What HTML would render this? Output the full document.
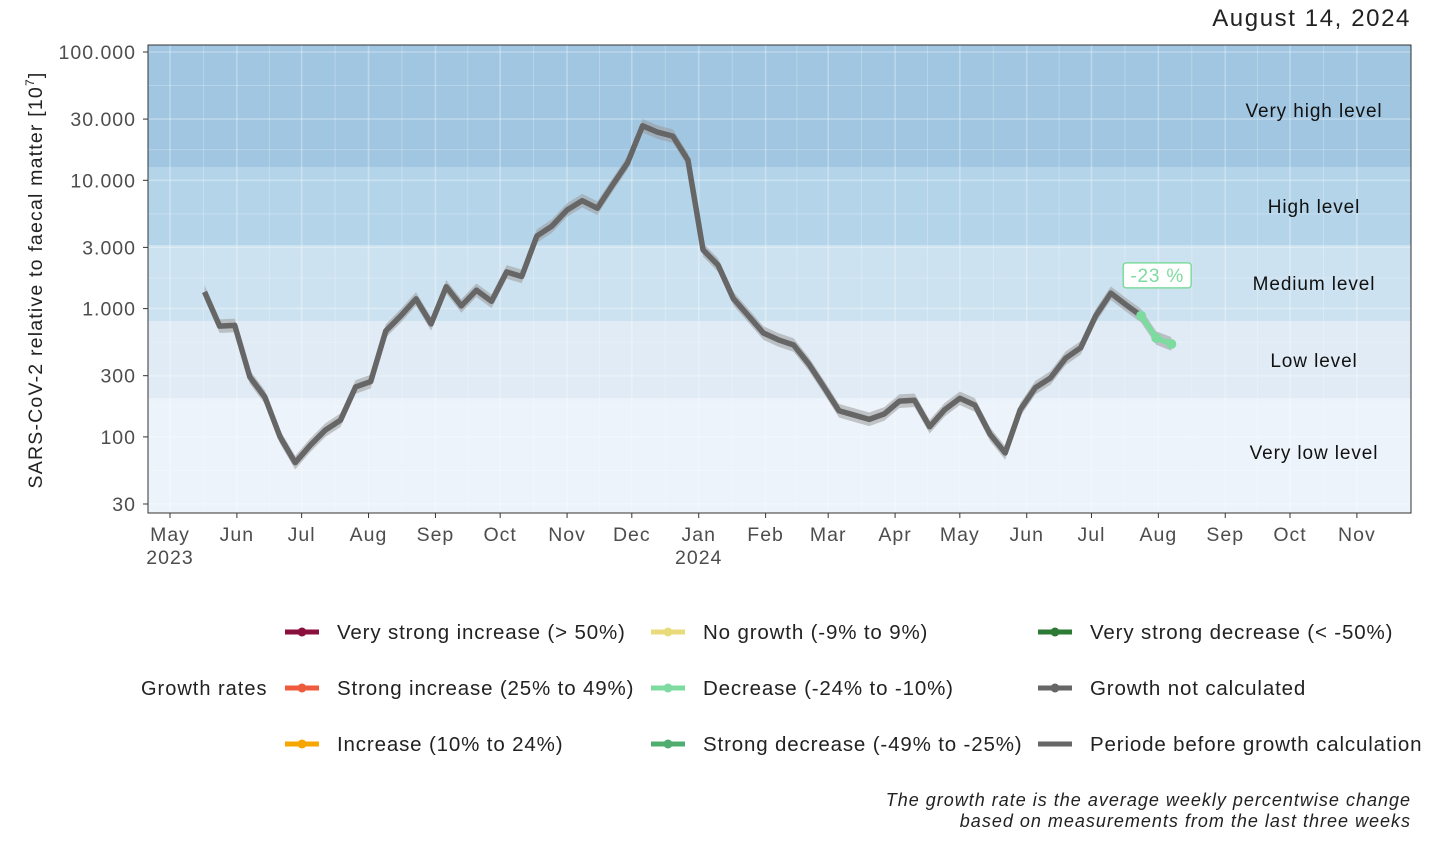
<!DOCTYPE html>
<html><head><meta charset="utf-8">
<style>
html,body{margin:0;padding:0;background:#fff;}
body{width:1456px;height:856px;overflow:hidden;font-family:"Liberation Sans",sans-serif;}
svg text{font-family:"Liberation Sans",sans-serif;}
</style></head>
<body>
<svg id="chart" width="1456" height="856" viewBox="0 0 1456 856"></svg>
<script>
const values = [1350,730,740,293,204,100,63,86,113,135,245,270,670,880,1190,760,1480,1050,1390,1140,1930,1780,3680,4400,5870,6940,6060,9150,13650,26600,23700,22100,14400,2870,2180,1200,880,645,570,520,370,245,160,148,137,151,190,193,120,163,200,177,105,75,163,242,288,410,495,880,1320,1070,880,590,530];
const startDate = "2023-05-17";
const greenStartIndex = 62;
const growthLabel = "-23 %";
const yTickValues = [30,100,300,1000,3000,10000,30000,100000];
const yTickLabels = ["30","100","300","1.000","3.000","10.000","30.000","100.000"];
const xTickDates = ["2023-05-01","2023-06-01","2023-07-01","2023-08-01","2023-09-01","2023-10-01","2023-11-01","2023-12-01","2024-01-01","2024-02-01","2024-03-01","2024-04-01","2024-05-01","2024-06-01","2024-07-01","2024-08-01","2024-09-01","2024-10-01","2024-11-01"];
const xTickLabels = ["May\n2023","Jun","Jul","Aug","Sep","Oct","Nov","Dec","Jan\n2024","Feb","Mar","Apr","May","Jun","Jul","Aug","Sep","Oct","Nov"];
const bandLimits = [20,200,800,3130,12700,200000];
const bandNames = ["Very low level","Low level","Medium level","High level","Very high level"];
const bandColors = ["#ecf3fa","#e0ebf5","#cde2f0","#b4d4ea","#a0c6e1"];

const NS="http://www.w3.org/2000/svg";
const svg=document.getElementById("chart");
const P={l:148,r:1411,t:45,b:513};
const day0=Date.parse("2023-05-01");
function dayOf(s){return (Date.parse(s)-day0)/86400000;}
function xs(d){return 170+d*2.158;}
function ys(v){return 52+(5-Math.log10(v))*128.3;}
function el(tag,attrs,parent){const e=document.createElementNS(NS,tag);for(const k in attrs)e.setAttribute(k,attrs[k]);(parent||svg).appendChild(e);return e;}
function cy(y){return Math.max(P.t,Math.min(P.b,y));}

for(let i=0;i<bandNames.length;i++){
  const y1=cy(ys(bandLimits[i+1])),y0=cy(ys(bandLimits[i]));
  const r=el("rect",{x:P.l,y:y1,width:P.r-P.l,height:y0-y1,fill:bandColors[i]});
  
  
}
const grid=el("g",{stroke:"#ffffff","stroke-opacity":"0.3"});


yTickValues.forEach(v=>{el("line",{x1:P.l,x2:P.r,y1:ys(v),y2:ys(v),"stroke-width":1.6},grid);});
for(let i=0;i<yTickValues.length-1;i++){const m=Math.sqrt(yTickValues[i]*yTickValues[i+1]);el("line",{x1:P.l,x2:P.r,y1:ys(m),y2:ys(m),"stroke-width":0.8},grid);}
xTickDates.forEach((d,i)=>{const x=xs(dayOf(d));el("line",{x1:x,x2:x,y1:P.t,y2:P.b,"stroke-width":1.6},grid);
  if(i<xTickDates.length-1){const xm=(x+xs(dayOf(xTickDates[i+1])))/2;el("line",{x1:xm,x2:xm,y1:P.t,y2:P.b,"stroke-width":0.8},grid);}
});
const bandLabelY=[452,360,283,206,110];
bandNames.forEach((n,i)=>{const t=el("text",{x:1314,y:bandLabelY[i]+7,"text-anchor":"middle","font-size":19,"letter-spacing":"0.9",fill:"#111"});t.textContent=n;
  
  });
const px=values.map((v,i)=>xs(dayOf(startDate)+7*i));
const py=values.map(v=>ys(v));
let up="",lo="";
values.forEach((v,i)=>{up+=(i?"L":"M")+px[i]+","+ys(v*1.13);});
for(let i=values.length-1;i>=0;i--)lo+="L"+px[i]+","+ys(values[i]/1.13);
const band=el("path",{d:up+lo+"Z",fill:"#9a9a9a","fill-opacity":"0.55"});


let dg="";for(let i=0;i<=greenStartIndex;i++)dg+=(i?"L":"M")+px[i]+","+py[i];
const lg=el("path",{d:dg,fill:"none",stroke:"#666666","stroke-width":5.5,"stroke-linejoin":"round"});


let dgr="";for(let i=greenStartIndex;i<values.length;i++)dgr+=(i>greenStartIndex?"L":"M")+px[i]+","+py[i];
const lgr=el("path",{d:dgr,fill:"none",stroke:"#7ddba0","stroke-width":5.5,"stroke-linejoin":"round"});


for(let i=greenStartIndex;i<values.length;i++){const c=el("circle",{cx:px[i],cy:py[i],r:5,fill:"#7ddba0"});
  
  }
const gx=px[values.length-2],gy=ys(values[values.length-4])-30;
const gb=el("rect",{x:gx-33,y:gy-12,width:68,height:25,rx:3,fill:"#fff",stroke:"#7ddba0","stroke-width":1.5});


const gt=el("text",{x:gx+1,y:gy+7,"text-anchor":"middle","font-size":19,"letter-spacing":"0.8",fill:"#7ddba0"});gt.textContent=growthLabel;


const fr=el("rect",{x:P.l,y:P.t,width:P.r-P.l,height:P.b-P.t,fill:"none",stroke:"#333","stroke-width":1});


yTickValues.forEach((v,i)=>{const y=ys(v);el("line",{x1:P.l-5,x2:P.l,y1:y,y2:y,stroke:"#333"});
  const t=el("text",{x:136,y:y+7,"text-anchor":"end","font-size":19.5,"letter-spacing":"1",fill:"#4d4d4d"});t.textContent=yTickLabels[i];
  
  });
const yt=el("text",{transform:"translate(42,280) rotate(-90)","text-anchor":"middle","font-size":19.5,"letter-spacing":"1.2",fill:"#222"});
yt.innerHTML='SARS-CoV-2 relative to faecal matter [10<tspan dy="-8" font-size="12">7</tspan><tspan dy="8">]</tspan>';


xTickDates.forEach((d,i)=>{const x=xs(dayOf(d));el("line",{x1:x,x2:x,y1:P.b,y2:P.b+5,stroke:"#333"});
  const parts=xTickLabels[i].split("\n");
  parts.forEach((p,j)=>{const t=el("text",{x:x,y:541+j*23,"text-anchor":"middle","font-size":19.5,"letter-spacing":"1",fill:"#4d4d4d"});t.textContent=p;
    
    });
});
const dt=el("text",{x:1411,y:26,"text-anchor":"end","font-size":24,"letter-spacing":"1.6",fill:"#222"});dt.textContent="August 14, 2024";


const lgTitle=el("text",{x:141,y:695,"font-size":20,"letter-spacing":"1",fill:"#222"});lgTitle.textContent="Growth rates";


const legendItems=[
 ["Very strong increase (> 50%)","#8b0f3c",285,632,true],
 ["Strong increase (25% to 49%)","#ef5a3c",285,688,true],
 ["Increase (10% to 24%)","#f7a600",285,744,true],
 ["No growth (-9% to 9%)","#e9da7c",651,632,true],
 ["Decrease (-24% to -10%)","#7ddba0",651,688,true],
 ["Strong decrease (-49% to -25%)","#4fae6f",651,744,true],
 ["Very strong decrease (< -50%)","#2c7a34",1038,632,true],
 ["Growth not calculated","#666666",1038,688,true],
 ["Periode before growth calculation","#666666",1038,744,false]];
legendItems.forEach(it=>{const g=el("g",{});
  
  
  el("line",{x1:it[2],x2:it[2]+34,y1:it[3],y2:it[3],stroke:it[1],"stroke-width":5},g);
  if(it[4])el("circle",{cx:it[2]+17,cy:it[3],r:4.5,fill:it[1]},g);
  const t=el("text",{x:it[2]+52,y:it[3]+7,"font-size":20.5,"letter-spacing":"0.85",fill:"#222"},g);t.textContent=it[0];});
["The growth rate is the average weekly percentwise change","based on measurements from the last three weeks"].forEach((s,i)=>{
  const t=el("text",{x:1411,y:806+i*21,"text-anchor":"end","font-size":18,"letter-spacing":"1",fill:"#222","font-style":"italic"});t.textContent=s;
  
  });
</script>
</body></html>
